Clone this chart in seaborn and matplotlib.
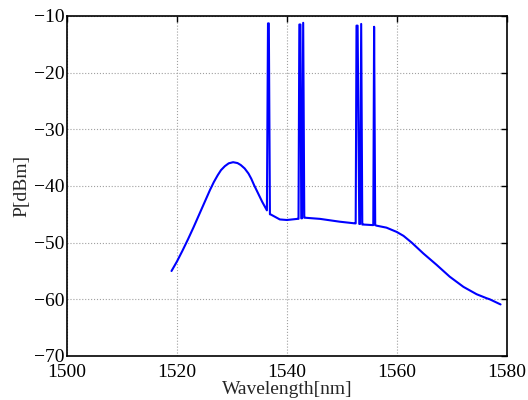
# -*- coding: utf-8 -*-
"""
Spectrum plot: power [dBm] vs wavelength [nm], MATLAB-like styling.
"""

import pandas as pd
import matplotlib
matplotlib.use('Agg')
import matplotlib.pyplot as plt
import seaborn as sns

# spectrum points
wavelength = [
    1519.0, 1520.0, 1521.0, 1522.0, 1523.0, 1524.0, 1525.0, 1526.0, 1526.7,
    1527.4, 1528.0, 1528.7, 1529.4, 1530.2, 1531.0, 1531.6, 1532.3, 1533.0,
    1533.5, 1534.0, 1534.7, 1535.5, 1536.35,
    1536.55, 1536.7, 1536.9,                      # peak 1
    1537.0, 1538.7, 1540.0, 1541.9,
    1542.1, 1542.25, 1542.45, 1542.6,             # peak 2
    1542.75, 1542.95, 1543.15,                    # peak 3
    1543.3, 1546.0, 1549.6, 1552.4,
    1552.5, 1552.65, 1552.85, 1553.15,            # peak 4
    1553.3, 1553.5, 1553.7,                       # peak 5
    1553.9, 1555.6,
    1555.7, 1555.85, 1556.05,                     # peak 6
    1556.3, 1558.1, 1559.95, 1561.2, 1562.7, 1564.8, 1567.2, 1569.6,
    1572.1, 1574.5, 1576.3, 1576.9, 1578.85,
]
power = [
    -55.0, -53.3, -51.4, -49.4, -47.3, -45.1, -42.9, -40.7, -39.3,
    -38.1, -37.2, -36.5, -36.0, -35.8, -35.95, -36.3, -36.9, -37.8,
    -38.7, -39.8, -41.2, -42.8, -44.3,
    -11.3, -11.3, -45.0,
    -45.0, -45.9, -46.0, -45.8,
    -45.8, -11.5, -11.5, -45.7,
    -45.7, -11.2, -45.6,
    -45.6, -45.8, -46.3, -46.6,
    -46.6, -11.7, -11.7, -46.7,
    -46.7, -11.4, -46.8,
    -46.8, -46.9,
    -46.9, -11.9, -46.9,
    -47.0, -47.35, -48.1, -48.8, -50.0, -51.9, -53.9, -56.0,
    -57.8, -59.1, -59.8, -60.0, -60.9,
]

x_ticks = [1500, 1520, 1540, 1560, 1580]
y_ticks = [-70, -60, -50, -40, -30, -20, -10]

df = pd.DataFrame({'wl': wavelength, 'p': power})

sns.set_style("white")
plt.rcParams['font.family'] = ['Liberation Serif', 'DejaVu Serif']

fig = plt.figure(figsize=(5.28, 4.0), dpi=100)
ax = fig.add_axes([0.127, 0.11, 0.833, 0.85])

sns.lineplot(data=df, x='wl', y='p', color='#0000ff', linewidth=1.5,
             sort=False, estimator=None, ax=ax)

ax.set_xlim(1500, 1580)
ax.set_ylim(-70, -10)
ax.set_xticks(x_ticks)
ax.set_yticks(y_ticks)
ax.set_xticklabels([str(t) for t in x_ticks])
ax.set_yticklabels([f'\u2212{abs(t)}' for t in y_ticks])
ax.grid(True, linestyle=':', color='#a0a0a0', linewidth=0.8)
ax.tick_params(direction='in', top=True, right=True, length=4, width=1,
               labelsize=14, pad=2, colors='black')
ax.tick_params(axis='x', pad=6)
for s in ax.spines.values():
    s.set_linewidth(1.2)
    s.set_color('black')

ax.set_xlabel('Wavelength[nm]', fontsize=14, labelpad=0)
ax.set_ylabel('P[dBm]', fontsize=14, labelpad=2)

fig.savefig('out.png', dpi=100)
